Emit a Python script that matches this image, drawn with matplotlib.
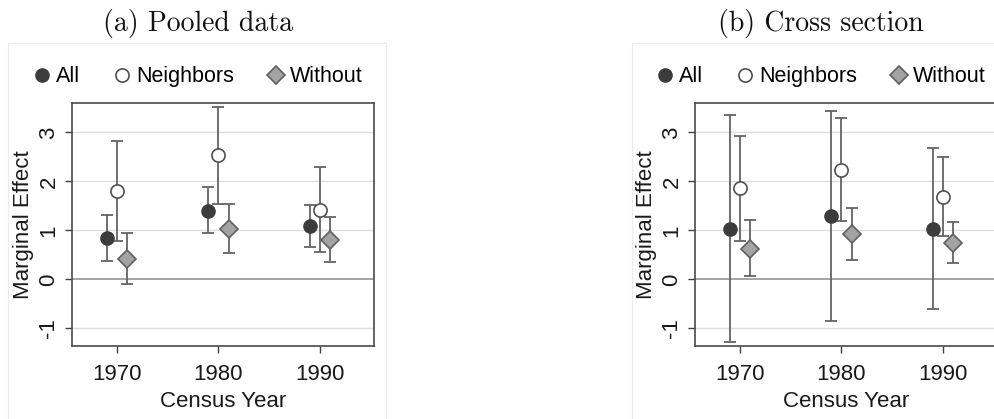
import matplotlib
matplotlib.use('Agg')
import matplotlib.pyplot as plt
from matplotlib.lines import Line2D
from matplotlib.patches import Rectangle

plt.rcParams['font.family'] = ['Liberation Sans', 'DejaVu Sans']

years = [1970, 1980, 1990]
series = ['All', 'Neighbors', 'Without']
offsets = [-1, 0, 1]

# panel (a) pooled data: estimate, lower, upper
pooled = {
    'All':       ([0.84, 1.40, 1.09], [0.37, 0.95, 0.66], [1.32, 1.88, 1.52]),
    'Neighbors': ([1.80, 2.54, 1.42], [0.79, 1.54, 0.56], [2.82, 3.52, 2.29]),
    'Without':   ([0.42, 1.02, 0.81], [-0.09, 0.53, 0.36], [0.95, 1.53, 1.28]),
}
# panel (b) cross section
cross = {
    'All':       ([1.03, 1.29, 1.03], [-1.27, -0.84, -0.61], [3.35, 3.44, 2.69]),
    'Neighbors': ([1.86, 2.24, 1.69], [0.78, 1.20, 0.88], [2.93, 3.30, 2.50]),
    'Without':   ([0.63, 0.92, 0.75], [0.07, 0.39, 0.34], [1.21, 1.46, 1.17]),
}

styles = {
    'All':       dict(marker='o', ms=9.5, mfc='#3c3c3c', mec='#3c3c3c'),
    'Neighbors': dict(marker='o', ms=9.5, mfc='white', mec='#505050', mew=1.2),
    'Without':   dict(marker='D', ms=9.0, mfc='#a3a3a3', mec='#606060', mew=1.2),
}

fig = plt.figure(figsize=(9.95, 4.19), dpi=100)

# faint graph-region outlines
fig.patches.append(Rectangle((8 / 995, -0.01), 378 / 995, (419 - 43) / 419 + 0.01,
                             transform=fig.transFigure, fill=False,
                             ec='#ececec', lw=0.8))
fig.patches.append(Rectangle((632 / 995, -0.01), 0.5, (419 - 43) / 419 + 0.01,
                             transform=fig.transFigure, fill=False,
                             ec='#ececec', lw=0.8))

panels = [(pooled, '(a) Pooled data', 72), (cross, '(b) Cross section', 695)]

for data, title, left_px in panels:
    ax = fig.add_axes([left_px / 995, (419 - 346) / 419, 302 / 995, 243 / 419])
    for yv in [-1, 1, 2, 3]:
        ax.axhline(yv, color='#dedede', lw=1.0, zorder=0)
    ax.axhline(0, color='#8c8c8c', lw=1.1, zorder=0)
    for s, off in zip(series, offsets):
        est, lo, hi = data[s]
        xs = [y + off for y in years]
        yerr = [[e - l for e, l in zip(est, lo)], [h - e for e, h in zip(est, hi)]]
        ax.errorbar(xs, est, yerr=yerr, fmt='none', ecolor='#636363',
                    elinewidth=1.3, capsize=4, capthick=1.3, zorder=2)
        ax.plot(xs, est, ls='none', zorder=3, **styles[s])
    ax.set_xlim(1965.6, 1995.3)
    ax.set_ylim(-1.36, 3.60)
    ax.set_xticks(years)
    ax.set_yticks([-1, 0, 1, 2, 3])
    ax.set_yticklabels(['-1', '0', '1', '2', '3'], rotation=90, va='center')
    ax.tick_params(axis='both', labelsize=16, color='#404040', length=5,
                   width=1.0, labelcolor='#1a1a1a')
    ax.tick_params(axis='x', pad=8)
    ax.tick_params(axis='y', pad=4)
    for sp in ax.spines.values():
        sp.set_color('#4a4a4a')
        sp.set_linewidth(1.2)
    ax.set_xlabel('Census Year', fontsize=16, color='#1a1a1a', labelpad=4)
    ax.set_ylabel('Marginal Effect', fontsize=16, color='#1a1a1a', labelpad=3)

    handles = [Line2D([], [], ls='none', **styles[s]) for s in series]
    ax.legend(handles, series, loc='lower left', bbox_to_anchor=(-0.17, 1.03),
              ncol=3, frameon=False, fontsize=15.5, handletextpad=0.05,
              columnspacing=1.35, handlelength=1.2, borderaxespad=0)

    cx = (left_px + 126) / 995
    fig.text(cx, 1 - 24 / 419, title, family='cmr10', fontsize=20,
             ha='center', va='center', color='#111111')

fig.savefig('out.png', dpi=100)
